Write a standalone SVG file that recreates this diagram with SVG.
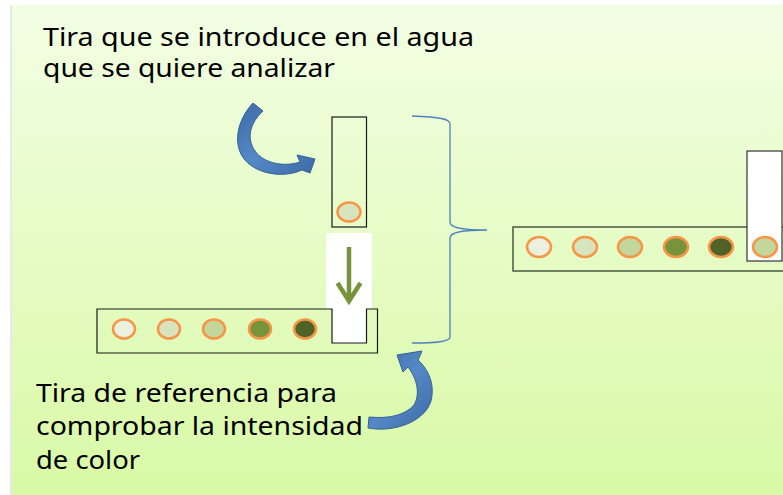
<svg xmlns="http://www.w3.org/2000/svg" width="783" height="495" viewBox="0 0 783 495">
<defs>
<linearGradient id="bg" x1="0" y1="0" x2="0" y2="1">
<stop offset="0" stop-color="#F2FEE4"/>
<stop offset="1" stop-color="#D9F9A6"/>
</linearGradient>
<linearGradient id="blue" x1="0" y1="0" x2="1" y2="1">
<stop offset="0" stop-color="#3C6AA6"/>
<stop offset="0.5" stop-color="#5589C6"/>
<stop offset="1" stop-color="#3C6AA6"/>
</linearGradient>
</defs>
<style>
.lbl{font-family:"Noto Sans","Open Sans","Liberation Sans",sans-serif;font-size:25px;fill:#000}
.strip{fill:none;stroke:#1a1a1a;stroke-width:1.2}
.dot{stroke:#F79646;stroke-width:2.5}
.c1{fill:#EBF1DE}.c2{fill:#D7E4BD}.c3{fill:#C3D69B}.c4{fill:#77933C}.c5{fill:#4F6228}
.curve{fill:url(#blue);stroke:#34609A;stroke-width:1}
.brace{fill:none;stroke:#4F81BD;stroke-width:1.3}
</style>
<rect x="10" y="5" width="773" height="490" fill="#E8E8E8"/>
<rect x="12" y="5" width="771" height="490" fill="url(#bg)"/>

<g id="label-top">
<text class="lbl" x="43" y="46" textLength="431" lengthAdjust="spacingAndGlyphs">Tira que se introduce en el agua</text>
<text class="lbl" x="43" y="77" textLength="292" lengthAdjust="spacingAndGlyphs">que se quiere analizar</text>
</g>

<g id="label-bottom">
<text class="lbl" x="36" y="402" textLength="301" lengthAdjust="spacingAndGlyphs">Tira de referencia para</text>
<text class="lbl" x="36" y="435" textLength="327" lengthAdjust="spacingAndGlyphs">comprobar la intensidad</text>
<text class="lbl" x="36" y="469" textLength="104" lengthAdjust="spacingAndGlyphs">de color</text>
</g>

<g id="test-strip">
<rect x="332" y="117" width="34.5" height="110" fill="none" stroke="#1a1a1a" stroke-width="1.2"/>
<ellipse class="dot c2" cx="349" cy="212" rx="11.5" ry="9.5"/>
</g>

<g id="reference-strip">
<rect x="326" y="233" width="46" height="76" fill="#FFFFFF"/>
<rect x="332" y="309" width="34.5" height="34" fill="#FFFFFF"/>
<path class="strip" d="M332,309 H97 V353 H377.5 V309 H366.5 V343 H332 Z"/>
<ellipse class="dot c1" cx="124" cy="329" rx="11" ry="9.5"/>
<ellipse class="dot c2" cx="169" cy="329" rx="11" ry="9.5"/>
<ellipse class="dot c3" cx="214" cy="329" rx="11" ry="9.5"/>
<ellipse class="dot c4" cx="260" cy="329" rx="11" ry="9.5"/>
<ellipse class="dot c5" cx="305" cy="329" rx="11" ry="9.5"/>
</g>

<g id="combined-strip">
<rect x="513" y="227" width="280" height="44" fill="none" stroke="#4D5745" stroke-width="1.5"/>
<rect x="747" y="151" width="35" height="110" fill="#FFFFFF" stroke="#333" stroke-width="1.2"/>
<ellipse class="dot c1" cx="539" cy="247" rx="12" ry="10"/>
<ellipse class="dot c2" cx="585" cy="247" rx="12" ry="10"/>
<ellipse class="dot c3" cx="630" cy="247" rx="12" ry="10"/>
<ellipse class="dot c4" cx="676" cy="247" rx="12" ry="10"/>
<ellipse class="dot c5" cx="721" cy="247" rx="12" ry="10"/>
<ellipse class="dot c3" cx="765" cy="247" rx="12" ry="10"/>
</g>

<g id="connectors">
<path d="M349,247 V298" stroke="#77933C" stroke-width="4.5" fill="none"/>
<path d="M337.5,283 L349,301 L360.5,283" stroke="#77933C" stroke-width="4.5" fill="none" stroke-linejoin="miter"/>
<path class="curve" d="M253,103 C237,120 232,145 245,160 C258,175 285,178 302,170 L310,173 L315,159 L297,155 L300,162 C285,167 264,164 255,151 C246,138 250,123 263,111 Z"/>
<path class="curve" d="M368,428 C395,433 425,421 431,401 C435,385 429,370 418,360 L422,351 L397,355 L403,372 L408,367 C418,380 420,395 414,405 C405,415 390,419 369,417 Z"/>
<path class="brace" d="M412,116 C440,117 450,119 450,124 V222 C450,227 458,230 487,230 C458,230 450,233 450,238 V337 C450,341 440,343 412,343"/>
</g>
</svg>
